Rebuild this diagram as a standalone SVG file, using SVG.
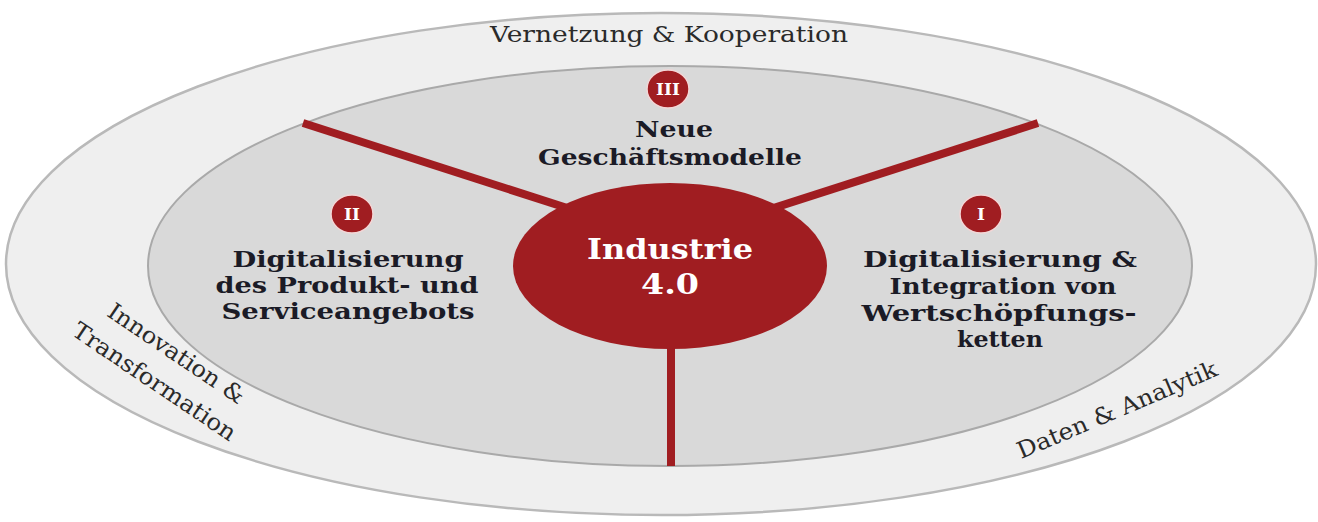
<svg xmlns="http://www.w3.org/2000/svg" width="1318" height="522" viewBox="0 0 1318 522">
<style>
.lbl{font-family:"DejaVu Serif","Liberation Serif",serif;font-weight:bold;font-size:23px;fill:#1b1b26;text-anchor:middle}
.ring{font-family:"DejaVu Serif","Liberation Serif",serif;font-size:23px;fill:#2a2a2a;text-anchor:middle}
.badge{fill:#a01d21;stroke:#f3d6d6;stroke-width:1.5}
.btxt{font-family:"DejaVu Serif","Liberation Serif",serif;font-weight:bold;font-size:17px;fill:#ffffff;text-anchor:middle}
.spoke{stroke:#a01d21;stroke-width:8;stroke-linecap:butt;fill:none}
</style>
<rect width="1318" height="522" fill="#ffffff"/>
<g id="outer-ring">
<ellipse cx="661" cy="264" rx="655" ry="251" fill="#efefef" stroke="#b9b9b9" stroke-width="2.5"/>
</g>
<g id="inner-ring">
<ellipse cx="670" cy="266" rx="522" ry="200" fill="#d9d9d9" stroke="#a9a9a9" stroke-width="2"/>
</g>
<g id="connectors">
<line class="spoke" x1="303" y1="123" x2="620" y2="225"/>
<line class="spoke" x1="1038" y1="123" x2="721" y2="225"/>
<line class="spoke" x1="671" y1="300" x2="671" y2="466"/>
</g>
<g id="center">
<ellipse cx="670" cy="266" rx="157" ry="83" fill="#a01d21"/>
<text class="lbl" x="670" y="259" style="fill:#ffffff;font-size:27px" textLength="166" lengthAdjust="spacingAndGlyphs">Industrie</text>
<text class="lbl" x="670" y="294" style="fill:#ffffff;font-size:27px" textLength="58" lengthAdjust="spacingAndGlyphs">4.0</text>
</g>
<g id="node-III">
<ellipse class="badge" cx="668" cy="89" rx="21" ry="19"/>
<text class="btxt" x="668" y="95">III</text>
<text class="lbl" x="674" y="137" textLength="78" lengthAdjust="spacingAndGlyphs">Neue</text>
<text class="lbl" x="670" y="165" textLength="264" lengthAdjust="spacingAndGlyphs">Geschäftsmodelle</text>
</g>
<g id="node-II">
<ellipse class="badge" cx="352" cy="214" rx="21" ry="19"/>
<text class="btxt" x="352" y="220">II</text>
<text class="lbl" x="348" y="267" textLength="231" lengthAdjust="spacingAndGlyphs">Digitalisierung</text>
<text class="lbl" x="347" y="293" textLength="263" lengthAdjust="spacingAndGlyphs">des Produkt- und</text>
<text class="lbl" x="348" y="319" textLength="253" lengthAdjust="spacingAndGlyphs">Serviceangebots</text>
</g>
<g id="node-I">
<ellipse class="badge" cx="981" cy="214" rx="21" ry="19"/>
<text class="btxt" x="981" y="220">I</text>
<text class="lbl" x="1000" y="267" textLength="274" lengthAdjust="spacingAndGlyphs">Digitalisierung &amp;</text>
<text class="lbl" x="1003" y="294" textLength="227" lengthAdjust="spacingAndGlyphs">Integration von</text>
<text class="lbl" x="999" y="321" textLength="275" lengthAdjust="spacingAndGlyphs">Wertschöpfungs-</text>
<text class="lbl" x="1000" y="347" textLength="86" lengthAdjust="spacingAndGlyphs">ketten</text>
</g>
<g id="ring-labels">
<text class="ring" x="669" y="42" textLength="358" lengthAdjust="spacingAndGlyphs">Vernetzung &amp; Kooperation</text>
<text class="ring" transform="translate(172,360) rotate(34)" x="0" y="0" textLength="160" lengthAdjust="spacingAndGlyphs">Innovation &amp;</text>
<text class="ring" transform="translate(150,388) rotate(34)" x="0" y="0" textLength="192" lengthAdjust="spacingAndGlyphs">Transformation</text>
<text class="ring" transform="translate(1120,417) rotate(-23)" x="0" y="0" textLength="215" lengthAdjust="spacingAndGlyphs">Daten &amp; Analytik</text>
</g>
</svg>
